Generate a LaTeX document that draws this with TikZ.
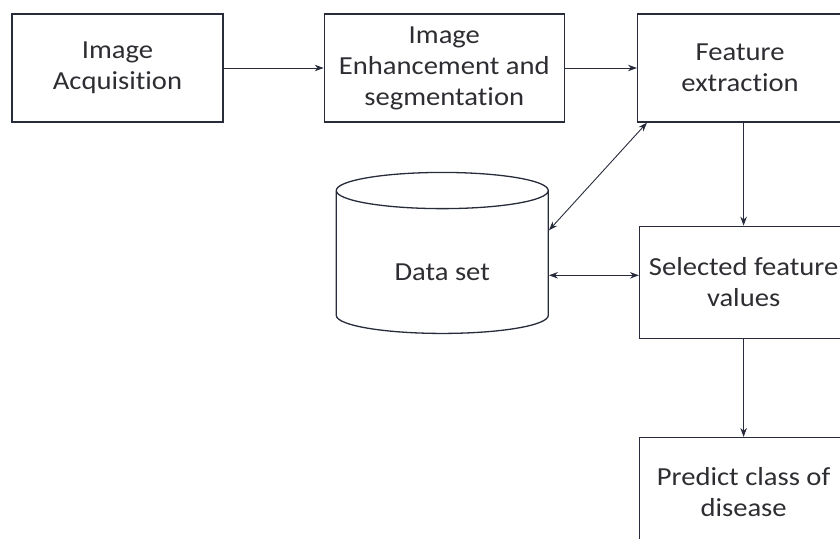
\documentclass[tikz,border=0pt]{standalone}
\usepackage{fontspec}
\setmainfont{Carlito}[Ligatures=NoCommon, FakeStretch=1.1]
\usetikzlibrary{arrows,arrows.meta,shapes.geometric,positioning}
\definecolor{scanink}{RGB}{40,44,58}
\definecolor{scantext}{RGB}{45,45,50}
\tikzstyle{arrow} = [->,>={Stealth[length=9pt,width=6.5pt]},line width=0.9pt,color=scanink]

\begin{document}
\begin{tikzpicture}[
    x=1pt, y=1pt,
    stage/.style={rectangle, draw=scanink, line width=1.3pt, text=scantext, minimum height=108pt, align=center, font=\fontsize{26}{31}\selectfont, inner sep=0pt},
    store/.style={cylinder, shape border rotate=90, aspect=0.38, draw=scanink, line width=1.3pt, text=scantext, minimum width=212pt, minimum height=161pt, font=\fontsize{26}{31}\selectfont, inner sep=0pt, text height=37pt, text depth=0pt}
]
\useasboundingbox (0,0) rectangle (840,-538);

% Top row
\node (acq) [stage, minimum width=211pt] at (117.5,-68) {Image\\Acquisition};
\node (enhance) [stage, minimum width=240pt, right=100pt of acq] {Image\\Enhancement and\\segmentation};
\node (feature) [stage, minimum width=205pt, right=72pt of enhance] {Feature\\extraction};

% Right column
\node (selected) [stage, minimum width=208pt, minimum height=112pt, below=103pt of feature, xshift=3.5pt] {Selected feature\\values};
\node (predict) [stage, minimum width=208pt, below=98pt of selected] {Predict class of\\disease};

% Data store
\node (dataset) [store, left=90pt of selected, yshift=20pt] {Data set};

% Connections
\draw[arrow] (acq) -- (enhance);
\draw[arrow] (enhance) -- (feature);
\draw[arrow] (selected.north |- feature.south) -- (selected);
\draw[arrow] (selected) -- (predict);
\draw[arrow, <->] ([xshift=10pt]feature.south west) -- ([yshift=32pt]dataset.east);
\draw[arrow, <->] ([yshift=7pt]selected.west) -- ([yshift=7pt]selected.west -| dataset.east);
\end{tikzpicture}
\end{document}
